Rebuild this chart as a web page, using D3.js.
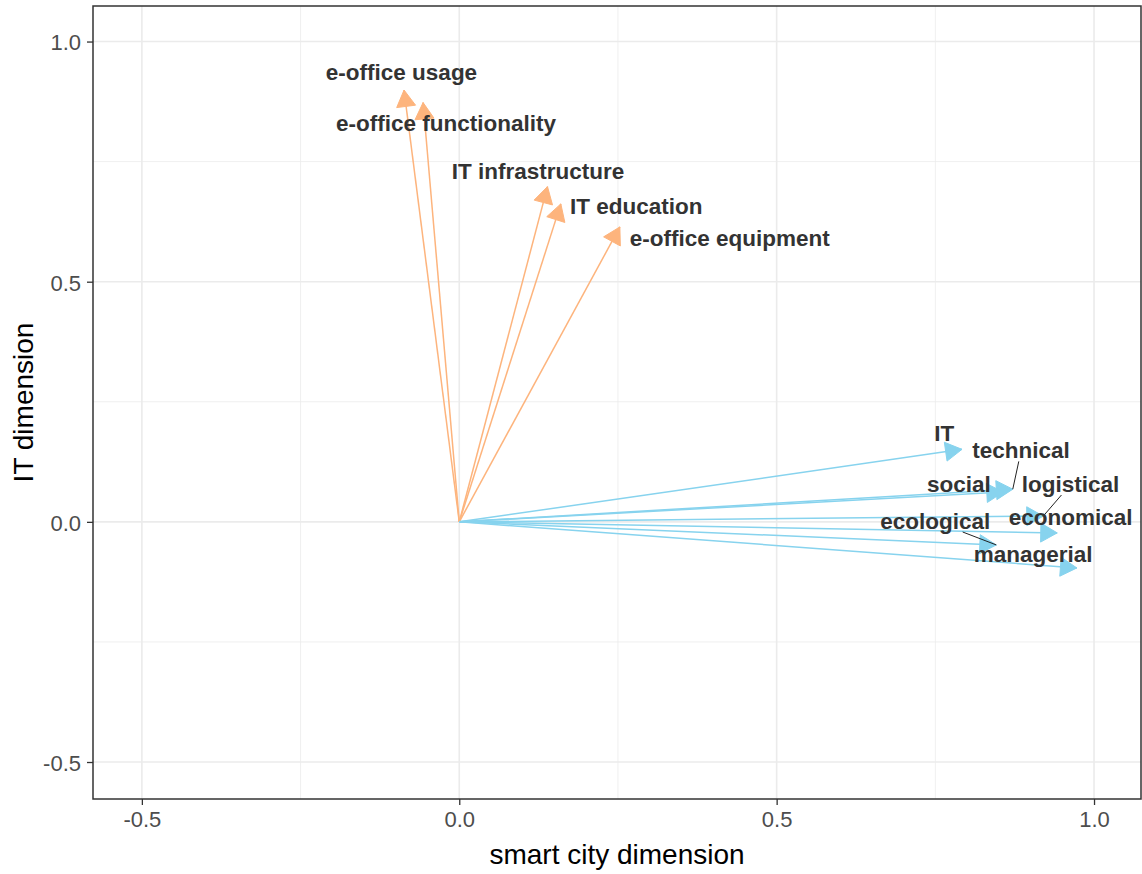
<!DOCTYPE html>
<html>
<head>
<meta charset="utf-8">
<script src="https://cdn.jsdelivr.net/npm/d3@7"></script>
<style>
  body { margin: 0; background: #fff; }
  svg { display: block; font-family: "Liberation Sans", Arial, sans-serif; }
</style>
</head>
<body>
<div id="chart"></div>
<script>
// loadings of each variable on the two dimensions
const variables = ["e-office usage", "e-office functionality", "IT infrastructure", "IT education", "e-office equipment",
  "IT", "technical", "social", "logistical", "economical", "ecological", "managerial"];
const groups = ["it", "it", "it", "it", "it",
  "city", "city", "city", "city", "city", "city", "city"];
const smartCity = [-0.087, -0.057, 0.139, 0.160, 0.253,
  0.792, 0.872, 0.857, 0.920, 0.942, 0.846, 0.973];
const itDim = [0.899, 0.873, 0.698, 0.662, 0.614,
  0.151, 0.068, 0.062, 0.012, -0.023, -0.048, -0.096];
// repelled label positions (data units)
const labelX = [-0.091, -0.021, 0.124, 0.279, 0.426,
  0.764, 0.885, 0.787, 0.963, 0.963, 0.750, 0.904];
const labelY = [0.936, 0.830, 0.730, 0.658, 0.591,
  0.185, 0.149, 0.079, 0.079, 0.010, 0.002, -0.067];

const majorTicks = [-0.5, 0, 0.5, 1.0];
const minorTicks = [-0.25, 0.25, 0.75];

const data = variables.map((v, i) => ({
  name: v, group: groups[i], x: smartCity[i], y: itDim[i], lx: labelX[i], ly: labelY[i]
}));

const margin = { top: 6, right: 1, bottom: 75, left: 93 };
const width = 1142 - margin.left - margin.right;
const height = 874 - margin.top - margin.bottom;

const svg = d3.select('#chart')
  .append('svg')
  .attr('width', 1142)
  .attr('height', 874);

const g = svg.append('g')
  .attr('transform', `translate(${margin.left},${margin.top})`);

const x = d3.scaleLinear().domain([-0.577, 1.074]).range([0, width]);
const y = d3.scaleLinear().domain([-0.577, 1.074]).range([height, 0]);

const color = d3.scaleOrdinal()
  .domain(["it", "city"])
  .range(["#fdb47d", "#87d3ee"]);

// grid
g.append('g').selectAll('line')
  .data(minorTicks)
  .join('line')
  .attr('x1', d => x(d)).attr('x2', d => x(d))
  .attr('y1', 0).attr('y2', height)
  .attr('stroke', '#ebebeb').attr('stroke-width', 0.8);
g.append('g').selectAll('line')
  .data(minorTicks)
  .join('line')
  .attr('y1', d => y(d)).attr('y2', d => y(d))
  .attr('x1', 0).attr('x2', width)
  .attr('stroke', '#ebebeb').attr('stroke-width', 0.8);
g.append('g').selectAll('line')
  .data(majorTicks)
  .join('line')
  .attr('x1', d => x(d)).attr('x2', d => x(d))
  .attr('y1', 0).attr('y2', height)
  .attr('stroke', '#ebebeb').attr('stroke-width', 1.6);
g.append('g').selectAll('line')
  .data(majorTicks)
  .join('line')
  .attr('y1', d => y(d)).attr('y2', d => y(d))
  .attr('x1', 0).attr('x2', width)
  .attr('stroke', '#ebebeb').attr('stroke-width', 1.6);

// axes
const fmt = d => d.toFixed(1);
const xAxis = g.append('g')
  .attr('transform', `translate(0,${height})`)
  .call(d3.axisBottom(x).tickValues(majorTicks).tickFormat(fmt).tickSize(6).tickPadding(6));
const yAxis = g.append('g')
  .call(d3.axisLeft(y).tickValues(majorTicks).tickFormat(fmt).tickSize(6).tickPadding(6));

[xAxis, yAxis].forEach(a => {
  a.select('.domain').remove();
  a.selectAll('line').attr('stroke', '#333').attr('stroke-width', 1.3);
  a.selectAll('text')
    .attr('fill', '#4d4d4d')
    .style('font-size', '22px')
    .style('font-family', '"Liberation Sans", Arial, sans-serif');
});
yAxis.selectAll('text').attr('dy', '0.38em');

// arrows
const arrowLen = 19;
const head = d => {
  const tx = x(d.x), ty = y(d.y);
  const ang = Math.atan2(ty - y(0), tx - x(0));
  const a1 = ang + Math.PI - Math.PI / 6, a2 = ang + Math.PI + Math.PI / 6;
  return [[tx, ty],
    [tx + arrowLen * Math.cos(a1), ty + arrowLen * Math.sin(a1)],
    [tx + arrowLen * Math.cos(a2), ty + arrowLen * Math.sin(a2)]];
};

const arrows = g.append('g');
arrows.selectAll('line')
  .data(data)
  .join('line')
  .attr('x1', x(0)).attr('y1', y(0))
  .attr('x2', d => x(d.x)).attr('y2', d => y(d.y))
  .attr('stroke', d => color(d.group))
  .attr('stroke-width', 1.5);
arrows.selectAll('polygon')
  .data(data)
  .join('polygon')
  .attr('points', d => head(d).map(p => p.join(',')).join(' '))
  .attr('fill', d => color(d.group))
  .attr('stroke', d => color(d.group))
  .attr('stroke-width', 1);

// labels
const segs = g.append('g');
const labels = g.append('g').selectAll('text')
  .data(data)
  .join('text')
  .attr('x', d => x(d.lx))
  .attr('y', d => y(d.ly))
  .attr('text-anchor', 'middle')
  .attr('dy', '0.36em')
  .attr('fill', '#333')
  .style('font-size', '22.5px')
  .style('font-weight', 'bold')
  .text(d => d.name);

// leader segments from label box to arrow tip (only long ones, like ggrepel)
labels.each(function (d) {
  const b = this.getBBox();
  const cx = b.x + b.width / 2, cy = b.y + b.height / 2;
  const px = x(d.x), py = y(d.y);
  const dx = px - cx, dy = py - cy;
  let t = 1;
  if (dx !== 0) t = Math.min(t, (b.width / 2) / Math.abs(dx));
  if (dy !== 0) t = Math.min(t, (b.height / 2 - 2) / Math.abs(dy));
  const sx = cx + dx * t, sy = cy + dy * t;
  const len = Math.hypot(px - sx, py - sy);
  if (len > 16) {
    segs.append('line')
      .attr('x1', sx).attr('y1', sy)
      .attr('x2', px).attr('y2', py)
      .attr('stroke', '#222')
      .attr('stroke-width', 1);
  }
});

// panel border
g.append('rect')
  .attr('width', width).attr('height', height)
  .attr('fill', 'none')
  .attr('stroke', '#333')
  .attr('stroke-width', 1.5);

// axis titles
svg.append('text')
  .attr('x', margin.left + width / 2)
  .attr('y', 864)
  .attr('text-anchor', 'middle')
  .style('font-size', '28px')
  .text('smart city dimension');

svg.append('text')
  .attr('transform', `translate(33,${margin.top + height / 2}) rotate(-90)`)
  .attr('text-anchor', 'middle')
  .style('font-size', '28px')
  .text('IT dimension');
</script>
</body>
</html>
